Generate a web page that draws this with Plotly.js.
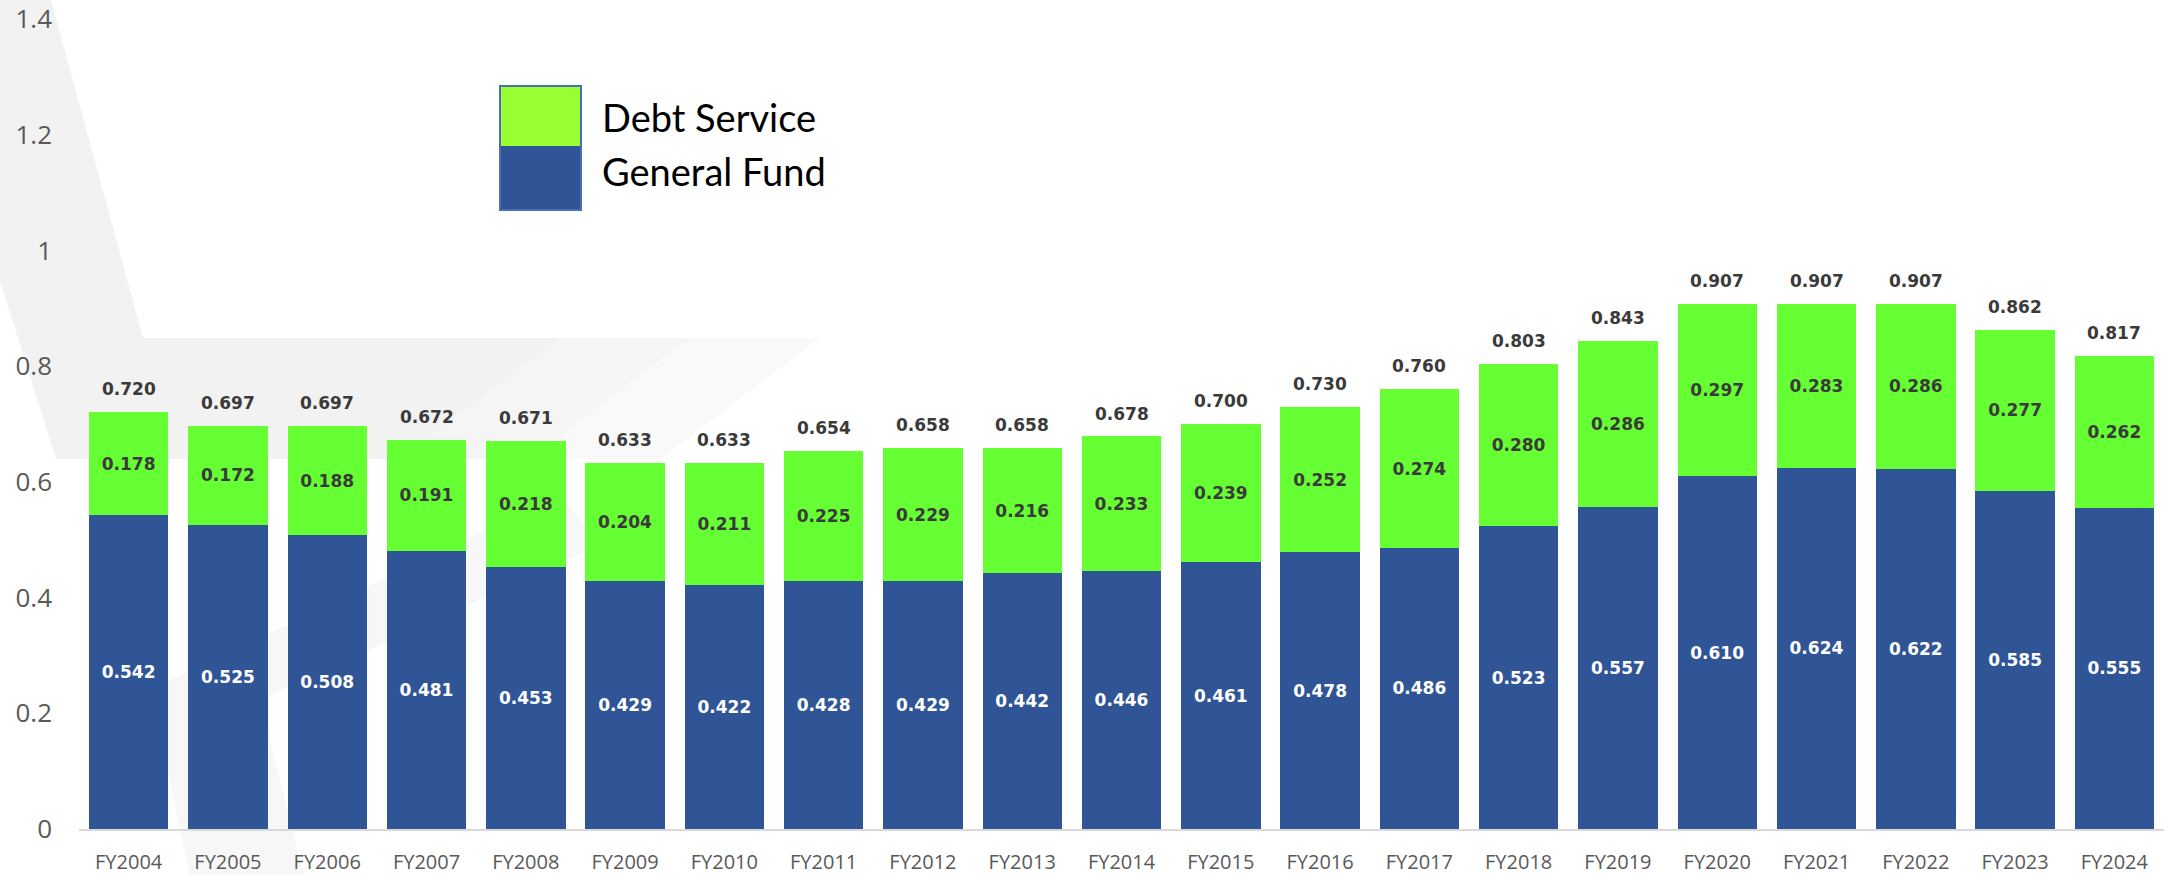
<!DOCTYPE html>
<html>
<head>
<meta charset="utf-8">
<script src="https://cdn.plot.ly/plotly-3.0.1.min.js"></script>
<style>
  html, body { margin: 0; padding: 0; background: #ffffff; }
  #chart { width: 2174px; height: 875px; }
</style>
</head>
<body>
<div id="chart"></div>
<script>
// ---- data ----
const years = ["FY2004","FY2005","FY2006","FY2007","FY2008","FY2009","FY2010","FY2011","FY2012","FY2013","FY2014","FY2015","FY2016","FY2017","FY2018","FY2019","FY2020","FY2021","FY2022","FY2023","FY2024"];
const generalFund = [0.542,0.525,0.508,0.481,0.453,0.429,0.422,0.428,0.429,0.442,0.446,0.461,0.478,0.486,0.523,0.557,0.610,0.624,0.622,0.585,0.555];
const debtService = [0.178,0.172,0.188,0.191,0.218,0.204,0.211,0.225,0.229,0.216,0.233,0.239,0.252,0.274,0.280,0.286,0.297,0.283,0.286,0.277,0.262];
const totals      = [0.720,0.697,0.697,0.672,0.671,0.633,0.633,0.654,0.658,0.658,0.678,0.700,0.730,0.760,0.803,0.843,0.907,0.907,0.907,0.862,0.817];
const seriesNames = ["General Fund","Debt Service"];
const yTicks = [0,0.2,0.4,0.6,0.8,1,1.2,1.4];
const yTickText = ["0","0.2","0.4","0.6","0.8","1","1.2","1.4"];

// ---- layout geometry (pixels) ----
const W = 2174, H = 875;
const M = {l: 79, r: 10, t: 19, b: 46};
const PW = W - M.l - M.r, PH = H - M.t - M.b;
const px = x => (x - M.l) / PW;          // pixel -> paper x
const py = y => (H - M.b - y) / PH;       // pixel -> paper y
function path(pts) {
  return 'M' + pts.map(p => px(p[0]).toFixed(5) + ',' + py(p[1]).toFixed(5)).join(' L') + ' Z';
}

const BLUE = '#2F5597', GREEN = '#66FF33';
const FONT = '"Open Sans", "DejaVu Sans", sans-serif';
const LABEL_FONT = '"DejaVu Sans", "Open Sans", sans-serif';

const traces = [
  {
    type: 'bar', name: seriesNames[0], x: years, y: generalFund,
    marker: {color: BLUE},
    text: generalFund.map(v => v.toFixed(3)), textposition: 'inside',
    insidetextanchor: 'middle',
    textfont: {family: LABEL_FONT, size: 17, color: '#ffffff', weight: 'bold'},
    hoverinfo: 'x+y+name'
  },
  {
    type: 'bar', name: seriesNames[1], x: years, y: debtService,
    marker: {color: GREEN},
    text: debtService.map(v => v.toFixed(3)), textposition: 'inside',
    insidetextanchor: 'middle',
    textfont: {family: LABEL_FONT, size: 17, color: '#3a3a3a', weight: 'bold'},
    hoverinfo: 'x+y+name'
  }
];

const annotations = years.map((yr, i) => ({
  x: yr, y: totals[i], xref: 'x', yref: 'y',
  text: '<b>' + totals[i].toFixed(3) + '</b>', showarrow: false,
  yanchor: 'middle', yshift: 23,
  font: {family: LABEL_FONT, size: 17, color: '#3a3a3a'}
}));

// custom legend (stacked swatch + labels)
const LX0 = 500, LX1 = 581, LY0 = 86, LYM = 146, LY1 = 210;
const bg = (pts, c) => ({type: 'path', xref: 'paper', yref: 'paper', layer: 'below',
                         line: {width: 0}, fillcolor: c, path: path(pts)});
const shapes = [
  // background watermark chevrons (very light)
  bg([[-90,0],[51,0],[143,338],[560,338],[400,459],[56,459],[-90,-5]], '#f2f2f2'),
  bg([[560,338],[690,338],[530,459],[400,459]], '#f5f5f5'),
  bg([[690,338],[820,338],[660,459],[530,459]], '#f9f9f9'),
  bg([[560,495],[600,545],[260,700],[305,880],[191,880],[150,690]], '#f7f7f7'),
  // legend swatches
  {type: 'rect', xref: 'paper', yref: 'paper', x0: px(LX0), x1: px(LX1), y0: py(LYM), y1: py(LY1),
   fillcolor: BLUE, line: {width: 0}},
  {type: 'rect', xref: 'paper', yref: 'paper', x0: px(LX0), x1: px(LX1), y0: py(LY0), y1: py(LYM),
   fillcolor: '#99FF33', line: {width: 0}},
  {type: 'rect', xref: 'paper', yref: 'paper', x0: px(LX0), x1: px(LX1), y0: py(LY0), y1: py(LY1),
   fillcolor: 'rgba(0,0,0,0)', line: {width: 2, color: '#4A6FB5'}}
];

annotations.push(
  {xref: 'paper', yref: 'paper', x: px(600), y: py(117), xanchor: 'left', yanchor: 'middle',
   text: seriesNames[1], showarrow: false, font: {family: 'Lato, "Open Sans", sans-serif', size: 38, color: '#000000'}},
  {xref: 'paper', yref: 'paper', x: px(600), y: py(171), xanchor: 'left', yanchor: 'middle',
   text: seriesNames[0], showarrow: false, font: {family: 'Lato, "Open Sans", sans-serif', size: 38, color: '#000000'}}
);

const layout = {
  width: W, height: H,
  margin: M,
  paper_bgcolor: '#ffffff', plot_bgcolor: 'rgba(0,0,0,0)',
  barmode: 'stack', bargap: 0.2,
  showlegend: false,
  xaxis: {
    type: 'category', showgrid: false, zeroline: false,
    showline: true, linecolor: '#d9d9d9', linewidth: 2,
    ticks: '', ticklabelstandoff: 14,
    tickfont: {family: FONT, size: 20, color: '#595959'}
  },
  yaxis: {
    range: [0, 1.4], tickvals: yTicks, ticktext: yTickText,
    showgrid: false, zeroline: false, showline: false,
    ticks: '', ticklabelstandoff: 26,
    tickfont: {family: FONT, size: 26, color: '#595959'}
  },
  annotations: annotations,
  shapes: shapes
};

Plotly.newPlot('chart', traces, layout, {displayModeBar: false, staticPlot: true});
</script>
</body>
</html>
